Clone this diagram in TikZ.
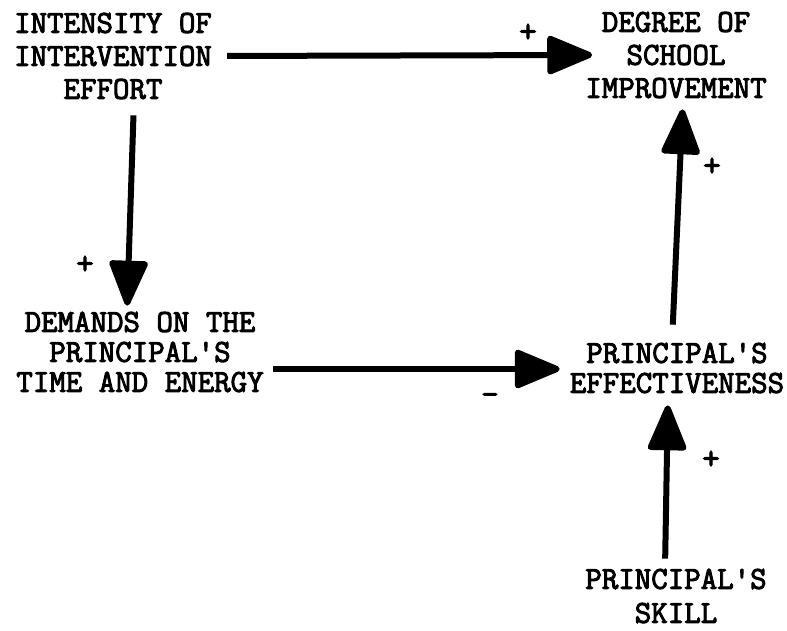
\documentclass[tikz,border=0pt]{standalone}
\usepackage{fontspec}
\usetikzlibrary{arrows.meta}
\newfontfamily\typewriter{Latin Modern Mono}[FakeBold=3]
\begin{document}
\begin{tikzpicture}[x=1pt,y=-1pt,
  label/.style={font=\typewriter\fontsize{32}{33}\selectfont,
    align=center, inner sep=0pt},
  sign/.style={font=\typewriter\fontsize{34}{34}\selectfont, inner sep=0pt},
  link/.style={line width=6pt,
    -{Triangle[width=40pt,length=50pt,round]}}]
\useasboundingbox (0,0) rectangle (787,630);

% variables of the causal model
\node[label] (effort) at (113,56) {INTENSITY OF\\INTERVENTION\\EFFORT};
\node[label] (improve) at (676,55) {DEGREE OF\\SCHOOL\\IMPROVEMENT};
\node[label, font=\typewriter\fontsize{32}{30}\selectfont]
  (demands) at (140,352) {DEMANDS ON THE\\PRINCIPAL'S\\TIME AND ENERGY};
\node[label, font=\typewriter\fontsize{32}{30}\selectfont]
  (effect) at (677,368) {PRINCIPAL'S\\EFFECTIVENESS};
\node[label, font=\typewriter\fontsize{32}{34}\selectfont]
  (skill) at (676,596) {PRINCIPAL'S\\SKILL};

% causal links
\draw[link, shorten <=15pt, shorten >=-7pt] (effort.east) -- (improve.west);
\draw[link, shorten <=16pt, shorten >=6pt]
  ([xshift=21pt]effort.south) -- ([xshift=-13pt]demands.north);
\draw[link, shorten <=9pt, shorten >=10pt]
  ([yshift=-17pt]demands.east) -- ([yshift=-1pt]effect.west);
\draw[link, shorten <=18pt, shorten >=11pt]
  ([xshift=-5pt]effect.north) -- ([xshift=7pt]improve.south);
\draw[link, shorten <=10pt, shorten >=12pt]
  ([xshift=-11pt]skill.north) -- ([xshift=-9pt]effect.south);

% signs of the links
\node[sign] (s1) at (528,33) {+};
\node[sign] (s2) at (85,265) {+};
\node[sign] (s3) at (712,167) {+};
\node[sign] (s4) at (711,460) {+};
\node[sign] (s5) at (490,399) {-};
\end{tikzpicture}
\end{document}
